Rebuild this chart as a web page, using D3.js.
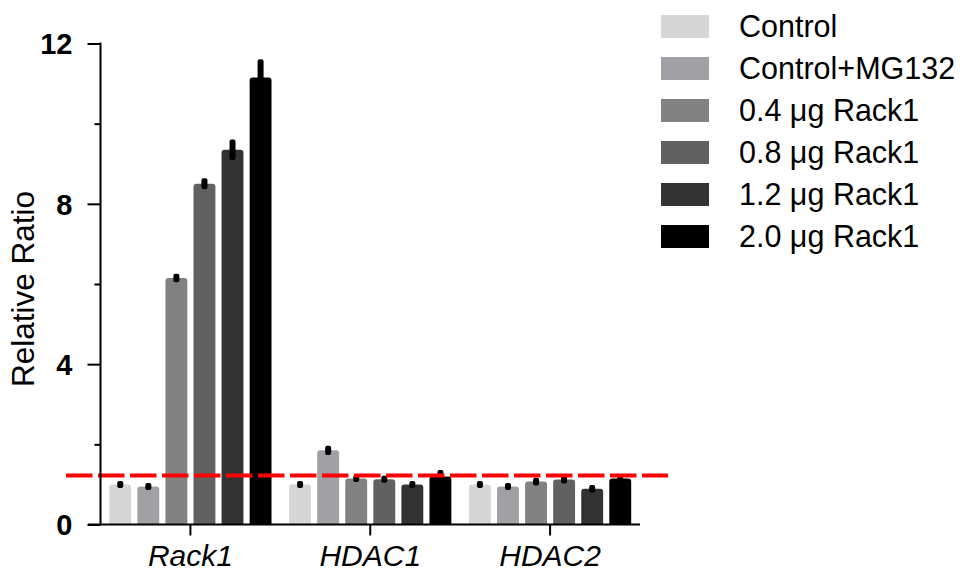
<!DOCTYPE html>
<html>
<head>
<meta charset="utf-8">
<script src="https://cdn.jsdelivr.net/npm/d3@7"></script>
<style>
  html, body { margin: 0; padding: 0; background: #ffffff; }
  svg { display: block; }
</style>
</head>
<body>
<svg id="chart" width="961" height="571"></svg>
<script>
// ---- data ----
const genes = ["Rack1", "HDAC1", "HDAC2"];
const seriesNames = ["Control", "Control+MG132", "0.4 \u03bcg Rack1", "0.8 \u03bcg Rack1", "1.2 \u03bcg Rack1", "2.0 \u03bcg Rack1"];
const seriesColors = ["#d6d6d6", "#a1a1a5", "#828282", "#616161", "#333333", "#000000"];
const valuesRack1 = [1.00, 0.95, 6.15, 8.50, 9.35, 11.15];
const valuesHDAC1 = [1.00, 1.85, 1.15, 1.13, 1.00, 1.20];
const valuesHDAC2 = [1.00, 0.95, 1.07, 1.12, 0.89, 1.15];
const errorsRack1 = [0.05, 0.05, 0.07, 0.10, 0.22, 0.42];
const errorsHDAC1 = [0.05, 0.08, 0.05, 0.05, 0.05, 0.12];
const errorsHDAC2 = [0.05, 0.05, 0.06, 0.06, 0.06, 0.02];
const yMajorTicks = [0, 4, 8, 12];
const yMinorTicks = [2, 6, 10];
const thresholdValue = 1.22;
const yLabel = "Relative Ratio";

const values = [valuesRack1, valuesHDAC1, valuesHDAC2];
const errors = [errorsRack1, errorsHDAC1, errorsHDAC2];
const rows = [];
genes.forEach((g, gi) => seriesNames.forEach((s, si) => {
  rows.push({gene: g, series: s, si, value: values[gi][si], err: errors[gi][si]});
}));

// ---- layout ----
const svg = d3.select("#chart");
const plotLeft = 100.5, plotRight = 640, plotTop = 43.5, plotBottom = 524.5;

const y = d3.scaleLinear().domain([0, 12]).range([plotBottom, plotTop]);
const x0 = d3.scaleBand().domain(genes).range([plotLeft, plotRight]).padding(0);
const x1 = d3.scaleBand().domain(seriesNames).range([6, x0.bandwidth() - 6])
  .paddingInner(0.22).paddingOuter(0.1);
const color = d3.scaleOrdinal().domain(seriesNames).range(seriesColors);

const font = "'Liberation Sans', Arial, Helvetica, sans-serif";

// bars with rounded top corners
function barPath(xp, w, yTop, yBot, r) {
  r = Math.min(r, w / 2, (yBot - yTop));
  return `M${xp},${yBot}V${yTop + r}Q${xp},${yTop} ${xp + r},${yTop}H${xp + w - r}Q${xp + w},${yTop} ${xp + w},${yTop + r}V${yBot}Z`;
}

const bars = svg.append("g");
bars.selectAll("path.bar").data(rows).join("path")
  .attr("class", "bar")
  .attr("d", d => barPath(x0(d.gene) + x1(d.series), x1.bandwidth(), y(d.value), y(0), 3))
  .attr("fill", d => color(d.series));

// error bars (thick rounded)
const ew = 6;
bars.selectAll("rect.err").data(rows).join("rect")
  .attr("class", "err")
  .attr("x", d => x0(d.gene) + x1(d.series) + x1.bandwidth() / 2 - ew / 2)
  .attr("width", ew)
  .attr("y", d => y(d.value + d.err) - 1.5)
  .attr("height", d => Math.max(4, y(d.value - d.err) - y(d.value + d.err) + 3))
  .attr("rx", 2)
  .attr("fill", "#000");

// ---- threshold line ----
svg.append("line")
  .attr("x1", 66).attr("x2", 668)
  .attr("y1", y(thresholdValue)).attr("y2", y(thresholdValue))
  .attr("stroke", "#ff0000").attr("stroke-width", 4)
  .attr("stroke-dasharray", "26.5,5.5");

// ---- y axis ----
const yAxis = svg.append("g").attr("transform", `translate(${plotLeft},0)`)
  .call(d3.axisLeft(y).tickValues(yMajorTicks).tickSize(13).tickPadding(15).tickFormat(d3.format("d")));
yAxis.select(".domain").remove();
yAxis.selectAll(".tick line").attr("stroke", "#000").attr("stroke-width", 2);
yAxis.selectAll(".tick text").attr("font-family", font).attr("font-size", 29).attr("font-weight", "bold").attr("fill", "#000").attr("dy", "0.36em");
yAxis.append("line").attr("x1", 0).attr("x2", 0).attr("y1", y(12) - 1).attr("y2", y(0))
  .attr("stroke", "#000").attr("stroke-width", 2);
const yMinor = svg.append("g").attr("transform", `translate(${plotLeft},0)`)
  .call(d3.axisLeft(y).tickValues(yMinorTicks).tickSize(6).tickFormat(""));
yMinor.select(".domain").remove();
yMinor.selectAll(".tick line").attr("stroke", "#000").attr("stroke-width", 2);

// ---- x axis ----
const xAxis = svg.append("g").attr("transform", `translate(0,${plotBottom})`)
  .call(d3.axisBottom(x0).tickSize(11).tickSizeOuter(0).tickPadding(8));
xAxis.select(".domain").remove();
xAxis.append("line").attr("x1", 88).attr("x2", plotRight).attr("y1", 0).attr("y2", 0)
  .attr("stroke", "#000").attr("stroke-width", 2);
xAxis.selectAll(".tick line").attr("stroke", "#000").attr("stroke-width", 2);
xAxis.selectAll(".tick text").attr("font-family", font).attr("font-size", 30)
  .attr("font-style", "italic").attr("fill", "#000").attr("dy", "0.76em");

// ---- y label ----
svg.append("text")
  .attr("transform", `translate(34,${(y(12) + y(0)) / 2 + 5}) rotate(-90)`)
  .attr("text-anchor", "middle")
  .attr("font-family", font).attr("font-size", 31.5).attr("fill", "#000")
  .text(yLabel);

// ---- legend ----
const legend = svg.append("g").attr("transform", "translate(661,15)");
const lg = legend.selectAll("g").data(seriesNames).join("g")
  .attr("transform", (d, i) => `translate(0,${i * 42})`);
lg.append("rect").attr("width", 48).attr("height", 23).attr("fill", d => color(d));
lg.append("text").attr("x", 78).attr("y", 11.5).attr("dy", "0.36em")
  .attr("font-family", font).attr("font-size", 30.5).attr("fill", "#000")
  .text(d => d);
</script>
</body>
</html>
